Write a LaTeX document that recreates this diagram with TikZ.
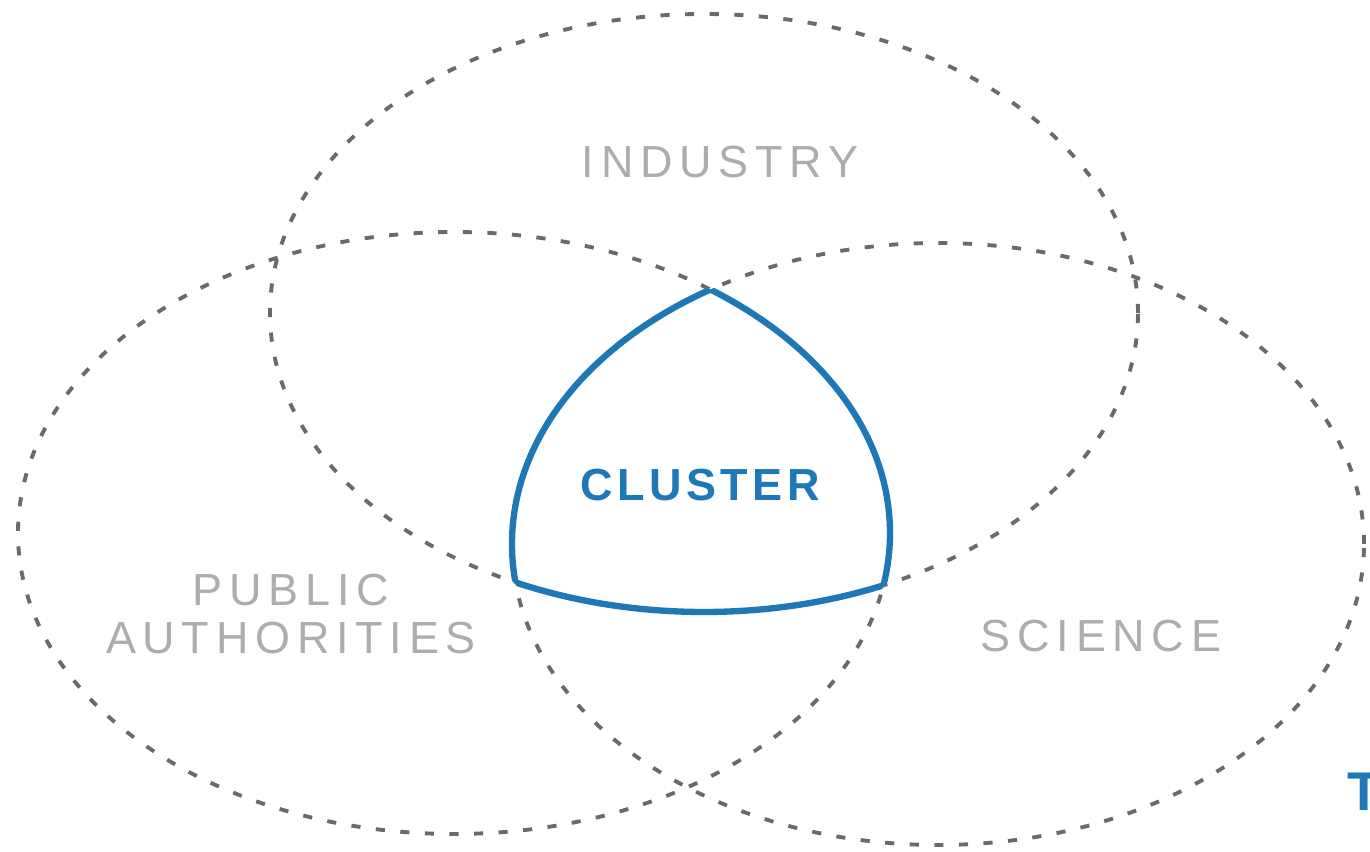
\documentclass[tikz,border=0pt]{standalone}
\usepackage{fontspec}
\setmainfont{Liberation Sans}
\definecolor{setgray}{HTML}{6A6A6A}
\definecolor{labelgray}{HTML}{ADADAD}
\definecolor{clusterblue}{HTML}{1E77B7}
% the three sets
\def\industryset{(7.04,5.39) ellipse [x radius=4.34, y radius=2.99]}
\def\publicset{(4.54,3.19) ellipse [x radius=4.36, y radius=3.01]}
\def\scienceset{(9.38,3.08) ellipse [x radius=4.26, y radius=3.01]}
\begin{document}
\begin{tikzpicture}[
    set/.style={draw=setgray, line width=1.1pt, dash pattern=on 2.6pt off 4.4pt},
    setlabel/.style={text=labelgray, align=center,
      font=\fontsize{12.8}{13.6}\selectfont\addfontfeature{LetterSpace=15}},
    clusterlabel/.style={text=clusterblue,
      font=\fontsize{12.8}{13.6}\selectfont\bfseries\addfontfeature{LetterSpace=10}},
    clusterline/.style={draw=clusterblue, line width=1.8pt}]
  \useasboundingbox (0,0) rectangle (13.7,8.52);

  \draw[set] \industryset;
  \draw[set] \publicset;
  \draw[set] \scienceset;

  % border of the common part
  \begin{scope}
    \clip \publicset; \clip \scienceset;
    \draw[clusterline] \industryset;
  \end{scope}
  \begin{scope}
    \clip \industryset; \clip \scienceset;
    \draw[clusterline] \publicset;
  \end{scope}
  \begin{scope}
    \clip \industryset; \clip \publicset;
    \draw[clusterline] \scienceset;
  \end{scope}

  \node[setlabel] (industry) at (7.20,6.90) {INDUSTRY};
  \node[setlabel] (public) at (2.91,2.38) {PUBLIC\\AUTHORITIES};
  \node[setlabel] (science) at (11.01,2.16) {SCIENCE};
  \node[clusterlabel] (cluster) at (7.00,3.67) {CLUSTER};
  \node[clusterlabel, font=\fontsize{15.5}{17}\selectfont\bfseries,
    anchor=west, inner sep=0pt] (cut) at (13.47,0.60) {T};
\end{tikzpicture}
\end{document}
